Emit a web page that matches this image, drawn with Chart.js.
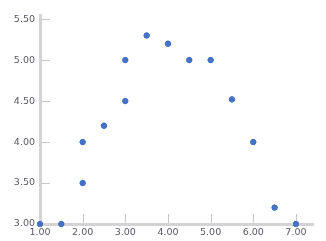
<!DOCTYPE html>
<html><head><meta charset="utf-8">
<script src="https://cdn.jsdelivr.net/npm/chart.js@4"></script>
<style>html,body{margin:0;padding:0;background:#fff}#w{width:326px;height:241px}</style>
</head><body><div id="w"><canvas id="c"></canvas></div>
<script>
const xValues = [1, 1.5, 2, 2, 2.5, 3, 3, 3.5, 4, 4.5, 5, 5.5, 6, 6.5, 7];
const yValues = [3, 3, 3.5, 4, 4.2, 4.5, 5, 5.3, 5.2, 5, 5, 4.52, 4, 3.2, 3];
const xTicks = [1, 2, 3, 4, 5, 6, 7];
const yTicks = [3, 3.5, 4, 4.5, 5, 5.5];

const points = xValues.map((x, i) => ({x: x, y: yValues[i]}));
const axisColor = '#d3d3d3';
const tickFont = {family: 'DejaVu Sans', size: 9.5};

const innerTicks = {
  id: 'innerTicks',
  afterDraw(chart) {
    const ctx = chart.ctx, a = chart.chartArea;
    const xs = chart.scales.x, ys = chart.scales.y;
    ctx.save();
    ctx.strokeStyle = '#c8c8c8';
    ctx.lineWidth = 1;
    ctx.beginPath();
    xTicks.forEach(v => { if (v === xs.min) return; const p = Math.round(xs.getPixelForValue(v)) + 0.5; ctx.moveTo(p, a.bottom - 1); ctx.lineTo(p, a.bottom - 10); });
    yTicks.forEach(v => { if (v === ys.min) return; const p = Math.round(ys.getPixelForValue(v)) + 0.5; ctx.moveTo(a.left + 1, p); ctx.lineTo(a.left + 10, p); });
    ctx.stroke();
    ctx.restore();
    // redraw points on top
    chart.getDatasetMeta(0).data.forEach(el => el.draw(ctx));
  }
};

new Chart(document.getElementById('c'), {
  type: 'scatter',
  data: {datasets: [{data: points, backgroundColor: '#4472c4', borderColor: '#4472c4', pointRadius: 2.6, pointHoverRadius: 2.6, clip: false}]},
  options: {
    responsive: true, maintainAspectRatio: false, animation: false,
    layout: {padding: {top: 15, right: 13, left: 0, bottom: 0}},
    plugins: {legend: {display: false}, tooltip: {enabled: false}},
    scales: {
      x: {
        type: 'linear', min: 1, max: 7.4,
        afterBuildTicks: s => { s.ticks = xTicks.map(v => ({value: v})); },
        afterFit: s => { s.height = 17; },
        grid: {display: true, drawOnChartArea: false, drawTicks: false},
        border: {color: axisColor, width: 3},
        ticks: {font: tickFont, color: '#5a5a64', padding: 3, maxRotation: 0, autoSkip: false, callback: v => v.toFixed(2)}
      },
      y: {
        type: 'linear', min: 3, max: 5.55,
        afterBuildTicks: s => { s.ticks = yTicks.map(v => ({value: v})); },
        afterFit: s => { s.width = 40; },
        grid: {display: true, drawOnChartArea: false, drawTicks: false},
        border: {color: axisColor, width: 3},
        ticks: {font: tickFont, color: '#5a5a64', padding: 5, autoSkip: false, callback: v => v.toFixed(2)}
      }
    }
  },
  plugins: [innerTicks]
});
</script>
</body></html>
